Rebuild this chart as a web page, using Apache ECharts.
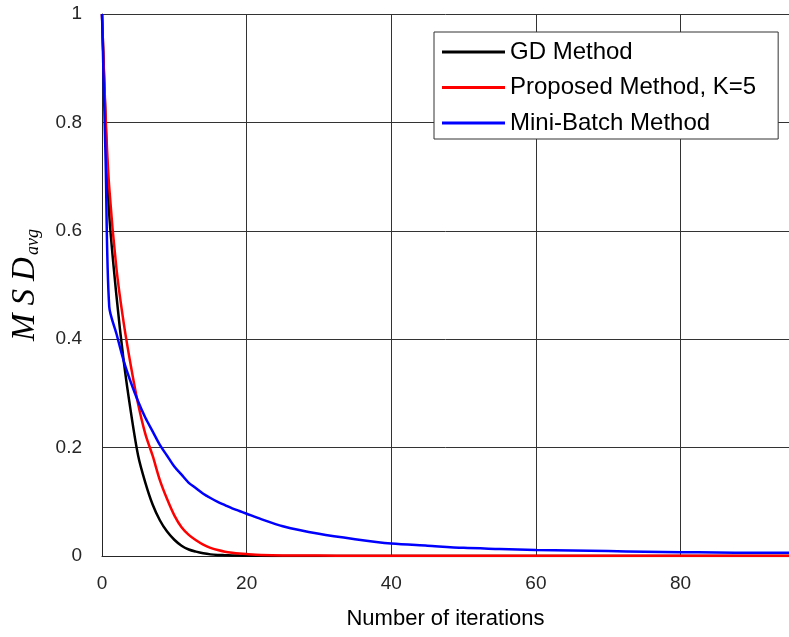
<!DOCTYPE html>
<html>
<head>
<meta charset="utf-8">
<title>MSD avg</title>
<script src="https://cdn.jsdelivr.net/npm/echarts@6/dist/echarts.min.js"></script>
<style>
  html, body { margin: 0; padding: 0; background: #fff; }
  #chart { width: 789px; height: 637px; }
</style>
</head>
<body>
<div id="chart"></div>
<script>
// iterations shared by all three curves
var iters = [0, 0.5, 1, 2, 3, 4, 5, 6, 7, 8, 9, 10, 11, 12, 13, 14, 15, 16, 17, 18, 19, 20, 22, 25,
  30, 35, 40, 45, 50, 55, 60, 65, 70, 75, 80, 85, 90, 95];

var gdMsd = [1, 0.8, 0.63, 0.48, 0.36, 0.265, 0.185, 0.135, 0.095, 0.066, 0.045, 0.03, 0.019, 0.012,
  0.008, 0.005, 0.003, 0.002, 0.0015, 0.001, 0.0007, 0.0005, 0.0003, 0.0001,
  0, 0, 0, 0, 0, 0, 0, 0, 0, 0, 0, 0, 0, 0];

var proposedMsd = [1, 0.81, 0.68, 0.53, 0.43, 0.35, 0.28, 0.225, 0.185, 0.14, 0.105, 0.075, 0.053, 0.039,
  0.029, 0.021, 0.015, 0.011, 0.008, 0.006, 0.0045, 0.0035, 0.002, 0.001,
  0.0007, 0.0006, 0.0005, 0.0005, 0.0005, 0.0005, 0.0005, 0.0005, 0.0005, 0.0005, 0.0005, 0.0005, 0.0005, 0.0005];

var miniBatchMsd = [1, 0.73, 0.46, 0.41, 0.36, 0.32, 0.285, 0.255, 0.23, 0.205, 0.185, 0.165, 0.15, 0.135,
  0.125, 0.115, 0.107, 0.1, 0.094, 0.088, 0.083, 0.078, 0.068, 0.055,
  0.041, 0.031, 0.023, 0.019, 0.015, 0.013, 0.011, 0.01, 0.009, 0.008, 0.007, 0.0065, 0.006, 0.006];

var seriesNames = ['GD Method', 'Proposed Method, K=5', 'Mini-Batch Method'];

function pairs(ys) {
  return iters.map(function (x, i) { return [x, ys[i]]; });
}

var myChart = echarts.init(document.getElementById('chart'));

var gridColor = '#333';
var textColor = '#262626';
var sans = 'Liberation Sans, Arial, sans-serif';
var serif = 'Liberation Serif, Times New Roman, serif';

var option = {
  animation: false,
  backgroundColor: '#fff',
  grid: { left: 102, right: 0, top: 14, bottom: 81 },
  legend: {
    orient: 'vertical',
    left: 434,
    top: 32,
    data: seriesNames,
    icon: 'rect',
    backgroundColor: '#fff',
    borderColor: '#333',
    borderWidth: 1,
    borderRadius: 0,
    padding: [8, 22, 4, 8],
    itemWidth: 63,
    itemHeight: 3,
    itemGap: 11.5,
    textStyle: { color: '#000', fontSize: 24, fontFamily: sans }
  },
  xAxis: {
    type: 'value',
    min: 0,
    max: 95,
    interval: 20,
    name: 'Number of iterations',
    nameLocation: 'middle',
    nameGap: 52,
    nameTextStyle: { color: '#000', fontSize: 22, fontFamily: sans },
    axisLine: { show: true, lineStyle: { color: textColor, width: 1 } },
    axisTick: { show: false },
    axisLabel: { color: textColor, fontSize: 19, margin: 18, showMaxLabel: false, fontFamily: sans },
    splitLine: { show: true, lineStyle: { color: gridColor, width: 1 } }
  },
  yAxis: {
    type: 'value',
    min: 0,
    max: 1,
    interval: 0.2,
    name: '{m|M}{s|S}{d|D}{b|avg}',
    nameLocation: 'middle',
    nameGap: 60,
    nameTextStyle: {
      rich: {
        m: { fontSize: 33, fontStyle: 'italic', fontFamily: serif, color: '#000', padding: [0, 8, 0, 0] },
        s: { fontSize: 33, fontStyle: 'italic', fontFamily: serif, color: '#000', padding: [0, 8, 0, 0] },
        d: { fontSize: 33, fontStyle: 'italic', fontFamily: serif, color: '#000', padding: [0, 2, 0, 0] },
        b: { fontSize: 18, fontStyle: 'italic', fontFamily: serif, color: '#000',
          verticalAlign: 'bottom', padding: [12, 0, 0, 0] }
      }
    },
    axisLine: { show: true, lineStyle: { color: textColor, width: 1 } },
    axisTick: { show: false },
    axisLabel: { color: textColor, fontSize: 19, margin: 20, fontFamily: sans },
    splitLine: { show: true, lineStyle: { color: gridColor, width: 1 } }
  },
  series: [
    { name: seriesNames[0], type: 'line', data: pairs(gdMsd), symbol: 'none', smooth: 0.3,
      lineStyle: { color: '#000', width: 2.5 }, itemStyle: { color: '#000' } },
    { name: seriesNames[1], type: 'line', data: pairs(proposedMsd), symbol: 'none', smooth: 0.3,
      lineStyle: { color: '#ff0000', width: 2.5 }, itemStyle: { color: '#ff0000' } },
    { name: seriesNames[2], type: 'line', data: pairs(miniBatchMsd), symbol: 'none', smooth: 0.3,
      lineStyle: { color: '#0000ff', width: 2.5 }, itemStyle: { color: '#0000ff' } }
  ]
};

myChart.setOption(option);
</script>
</body>
</html>
